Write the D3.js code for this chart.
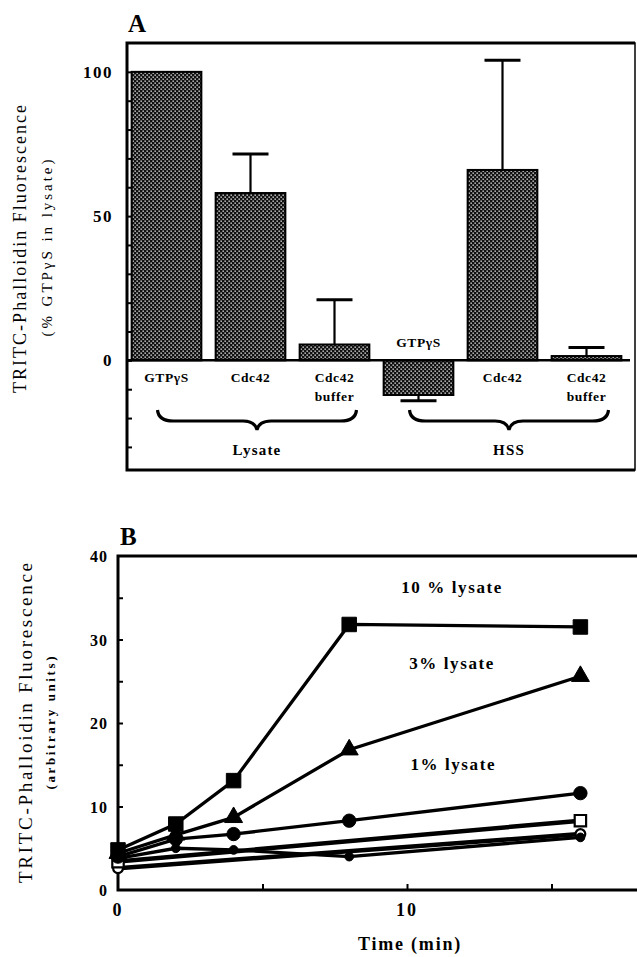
<!DOCTYPE html>
<html>
<head>
<meta charset="utf-8">
<script src="https://cdn.jsdelivr.net/npm/d3@7"></script>
<style>
    body { margin: 0; background: #fff; }
    svg { display: block; font-family: 'Liberation Serif', 'DejaVu Serif', serif; }
</style>
</head>
<body>
<svg id="chart"></svg>
<script>
// ---------- Panel A data ----------
const barIds = ['lys-gtp', 'lys-cdc', 'lys-buf', 'hss-gtp', 'hss-cdc', 'hss-buf'];
const barLabels = ['GTPγS', 'Cdc42', 'Cdc42\nbuffer', 'GTPγS', 'Cdc42', 'Cdc42\nbuffer'];
const barValues = [100, 58, 5.5, -12, 66, 1.5];
const barErrors = [0, 13.5, 15.5, 2, 38, 3];
const groupNames = ['Lysate', 'HSS'];
const groupMembers = [[0, 2], [3, 5]];
const yTicksA = [0, 50, 100];

// ---------- Panel B data ----------
const timePoints = [0, 2, 4, 8, 16];
const lysate10 = [4.8, 7.9, 13.1, 31.8, 31.5];
const lysate3 = [4.4, 6.6, 8.7, 16.8, 25.6];
const lysate1 = [4.0, 6.1, 6.7, 8.3, 11.6];
const noLysate = [3.8, 5.0, 4.8, 4.0, 6.3];
const controlTimes = [0, 16];
const openSquareValues = [3.4, 8.3];
const openCircleValues = [2.6, 6.7];
const seriesLabels = ['10 % lysate', '3% lysate', '1% lysate'];
const yTicksB = [0, 10, 20, 30, 40];
const xTicksB = [0, 10];

const width = 637, height = 957;
const svg = d3.select('#chart').attr('width', width).attr('height', height);

const defs = svg.append('defs');
const pat = defs.append('pattern')
    .attr('id', 'stipple')
    .attr('width', 4).attr('height', 4)
    .attr('patternUnits', 'userSpaceOnUse');
pat.append('rect').attr('width', 4).attr('height', 4).attr('fill', '#111');
pat.append('rect').attr('x', 0.5).attr('y', 0.5).attr('width', 1.3).attr('height', 1.3).attr('fill', '#fff');
pat.append('rect').attr('x', 2.5).attr('y', 2.5).attr('width', 1.3).attr('height', 1.3).attr('fill', '#fff');

// =================== Panel A ===================
const frameA = { left: 127, top: 43, right: 635, bottom: 470 };

const xA = d3.scaleBand()
    .domain(barIds)
    .range([124.5, 628.5])
    .paddingInner(0.17)
    .paddingOuter(0.085);

const yA = d3.scaleLinear()
    .domain([-38, 110])
    .range([frameA.bottom, frameA.top]);

const gA = svg.append('g');

// frame
gA.append('rect')
    .attr('x', frameA.left).attr('y', frameA.top)
    .attr('width', frameA.right - frameA.left)
    .attr('height', frameA.bottom - frameA.top)
    .attr('fill', 'none')
    .attr('stroke', '#000')
    .attr('stroke-width', 1.5);
gA.append('path')
    .attr('d', `M${frameA.right},${frameA.top} H${frameA.left} V${frameA.bottom} H${frameA.right}`)
    .attr('fill', 'none')
    .attr('stroke', '#000')
    .attr('stroke-width', 3);

// y axis: inward minor ticks every 10, labels at 0/50/100
const axisA = gA.append('g')
    .attr('transform', `translate(${frameA.left},0)`)
    .call(d3.axisRight(yA).tickValues(d3.range(-30, 101, 10)).tickSize(5).tickFormat(''));
axisA.select('.domain').remove();
axisA.selectAll('line').attr('stroke-width', 2);

gA.selectAll('.ytickA')
    .data(yTicksA)
    .join('text')
    .attr('class', 'ytickA')
    .attr('x', 113)
    .attr('y', d => yA(d) + 6)
    .attr('text-anchor', 'end')
    .attr('font-size', 17)
    .attr('font-weight', 'bold')
    .attr('letter-spacing', 1.5)
    .text(d => d);

// bars
const bars = barIds.map((id, i) => ({ id, label: barLabels[i], value: barValues[i], err: barErrors[i] }));

gA.selectAll('.bar')
    .data(bars)
    .join('rect')
    .attr('class', 'bar')
    .attr('x', d => xA(d.id))
    .attr('width', xA.bandwidth())
    .attr('y', d => yA(Math.max(0, d.value)))
    .attr('height', d => Math.abs(yA(d.value) - yA(0)))
    .attr('fill', 'url(#stipple)')
    .attr('stroke', '#000')
    .attr('stroke-width', 2);

// error bars (drawn away from zero)
const errBars = bars.filter(d => d.err > 0);
const errEnd = d => d.value >= 0 ? d.value + d.err : d.value - d.err;
gA.selectAll('.err-stem')
    .data(errBars)
    .join('line')
    .attr('class', 'err-stem')
    .attr('x1', d => xA(d.id) + xA.bandwidth() / 2)
    .attr('x2', d => xA(d.id) + xA.bandwidth() / 2)
    .attr('y1', d => yA(d.value))
    .attr('y2', d => yA(errEnd(d)))
    .attr('stroke', '#000').attr('stroke-width', 2.2);
gA.selectAll('.err-cap')
    .data(errBars)
    .join('line')
    .attr('class', 'err-cap')
    .attr('x1', d => xA(d.id) + xA.bandwidth() / 2 - 18)
    .attr('x2', d => xA(d.id) + xA.bandwidth() / 2 + 18)
    .attr('y1', d => yA(errEnd(d)))
    .attr('y2', d => yA(errEnd(d)))
    .attr('stroke', '#000').attr('stroke-width', 3);

// zero line
gA.append('line')
    .attr('x1', frameA.left).attr('x2', 630)
    .attr('y1', yA(0)).attr('y2', yA(0))
    .attr('stroke', '#000').attr('stroke-width', 2.5);

// category labels (negative bar gets its label above the zero line)
const catLabels = gA.selectAll('.cat')
    .data(bars)
    .join('text')
    .attr('class', 'cat')
    .attr('text-anchor', 'middle')
    .attr('font-size', 13.5)
    .attr('font-weight', 'bold')
    .attr('letter-spacing', 0.6)
    .attr('x', d => xA(d.id) + xA.bandwidth() / 2)
    .attr('y', d => d.value < 0 ? yA(0) - 13 : yA(0) + 22);
catLabels.selectAll('tspan')
    .data(d => d.label.split('\n'))
    .join('tspan')
    .attr('x', function () { return d3.select(this.parentNode).attr('x'); })
    .attr('dy', (d, i) => i === 0 ? 0 : 19)
    .text(d => d);

// group braces
const bracePath = (x0, x1, yTop) => {
    const mid = (x0 + x1) / 2, yb = yTop + 11, tip = yb + 9;
    return `M${x0},${yTop} Q${x0 + 1},${yb} ${x0 + 16},${yb} L${mid - 14},${yb} Q${mid - 2},${yb} ${mid},${tip}` +
        ` Q${mid + 2},${yb} ${mid + 14},${yb} L${x1 - 16},${yb} Q${x1 - 1},${yb} ${x1},${yTop}`;
};
const groups = groupNames.map((name, i) => {
    const first = barIds[groupMembers[i][0]], last = barIds[groupMembers[i][1]];
    const c0 = xA(first) + xA.bandwidth() / 2, c1 = xA(last) + xA.bandwidth() / 2;
    return { name, x0: c0 - 9, x1: c1 + 22 };
});
gA.selectAll('.brace')
    .data(groups)
    .join('path')
    .attr('class', 'brace')
    .attr('d', d => bracePath(d.x0, d.x1, 410))
    .attr('fill', 'none')
    .attr('stroke', '#000')
    .attr('stroke-width', 3.2);
gA.selectAll('.group-label')
    .data(groups)
    .join('text')
    .attr('class', 'group-label')
    .attr('x', d => (d.x0 + d.x1) / 2)
    .attr('y', 455)
    .attr('text-anchor', 'middle')
    .attr('font-size', 15)
    .attr('font-weight', 'bold')
    .attr('letter-spacing', 1.2)
    .text(d => d.name);

// axis titles
gA.append('text')
    .attr('x', 128).attr('y', 32)
    .attr('font-size', 25)
    .attr('font-weight', 'bold')
    .text('A');
gA.append('text')
    .attr('transform', 'translate(26,249) rotate(-90)')
    .attr('text-anchor', 'middle')
    .attr('font-size', 18)
    .attr('textLength', 288).attr('lengthAdjust', 'spacing')
    .text('TRITC-Phalloidin Fluorescence');
gA.append('text')
    .attr('transform', 'translate(52,248) rotate(-90)')
    .attr('text-anchor', 'middle')
    .attr('font-size', 15)
    .attr('textLength', 177).attr('lengthAdjust', 'spacing')
    .text('(% GTPγS in lysate)');

// =================== Panel B ===================
const frameB = { left: 118, top: 556, right: 637, bottom: 890 };

const xB = d3.scaleLinear()
    .domain([0, 10])
    .range([frameB.left, 407]);
const yB = d3.scaleLinear()
    .domain([0, 40])
    .range([frameB.bottom, frameB.top]);

const gB = svg.append('g');

gB.append('path')
    .attr('d', `M${frameB.right},${frameB.top} H${frameB.left} V${frameB.bottom} H${frameB.right}`)
    .attr('fill', 'none')
    .attr('stroke', '#000')
    .attr('stroke-width', 3);

// inward ticks
const yAxisB = gB.append('g')
    .attr('transform', `translate(${frameB.left},0)`)
    .call(d3.axisRight(yB).tickValues(d3.range(5, 40, 5)).tickSize(5).tickFormat(''));
yAxisB.select('.domain').remove();
yAxisB.selectAll('line').attr('stroke-width', 2);
const xAxisB = gB.append('g')
    .attr('transform', `translate(0,${frameB.bottom})`)
    .call(d3.axisTop(xB).tickValues([5, 10, 15]).tickSize(6).tickFormat(''));
xAxisB.select('.domain').remove();
xAxisB.selectAll('line').attr('stroke-width', 2);

gB.selectAll('.ytickB')
    .data(yTicksB)
    .join('text')
    .attr('class', 'ytickB')
    .attr('x', 108)
    .attr('y', d => yB(d) + 6)
    .attr('text-anchor', 'end')
    .attr('font-size', 16)
    .attr('font-weight', 'bold')
    .attr('letter-spacing', 1)
    .text(d => d);
gB.selectAll('.xtickB')
    .data(xTicksB)
    .join('text')
    .attr('class', 'xtickB')
    .attr('x', d => xB(d))
    .attr('y', 916)
    .attr('text-anchor', 'middle')
    .attr('font-size', 18)
    .attr('font-weight', 'bold')
    .attr('letter-spacing', 2)
    .text(d => d);

// series
const toPoints = (times, values) => times.map((t, i) => ({ t, v: values[i] }));
const line = d3.line().x(d => xB(d.t)).y(d => yB(d.v));
const series = [
    { pts: toPoints(controlTimes, openCircleValues), shape: 'openCircle' },
    { pts: toPoints(timePoints, noLysate), shape: 'smallDot' },
    { pts: toPoints(controlTimes, openSquareValues), shape: 'openSquare' },
    { pts: toPoints(timePoints, lysate1), shape: 'circle' },
    { pts: toPoints(timePoints, lysate3), shape: 'triangle' },
    { pts: toPoints(timePoints, lysate10), shape: 'square' }
];

gB.selectAll('.series-line')
    .data(series)
    .join('path')
    .attr('class', 'series-line')
    .attr('d', d => line(d.pts))
    .attr('fill', 'none')
    .attr('stroke', '#000')
    .attr('stroke-width', d => d.shape.startsWith('open') ? 4.5 : 3.3);

const symbolFor = {
    square: d3.symbol(d3.symbolSquare, 210),
    triangle: d3.symbol(d3.symbolTriangle, 140),
    circle: d3.symbol(d3.symbolCircle, 140),
    smallDot: d3.symbol(d3.symbolCircle, 60),
    openSquare: d3.symbol(d3.symbolSquare, 130),
    openCircle: d3.symbol(d3.symbolCircle, 75)
};
series.forEach(s => {
    const open = s.shape.startsWith('open');
    gB.append('g').selectAll('path')
        .data(s.pts)
        .join('path')
        .attr('transform', d => `translate(${xB(d.t)},${yB(d.v)})`)
        .attr('d', symbolFor[s.shape]())
        .attr('fill', open ? '#fff' : '#000')
        .attr('stroke', '#000')
        .attr('stroke-width', open ? 2.2 : 1);
});

// series labels (layout positions in data units)
const labelPos = [{ t: 11.56, v: 35.6 }, { t: 11.56, v: 26.5 }, { t: 11.6, v: 14.4 }];
gB.selectAll('.series-label')
    .data(seriesLabels)
    .join('text')
    .attr('class', 'series-label')
    .attr('x', (d, i) => xB(labelPos[i].t))
    .attr('y', (d, i) => yB(labelPos[i].v))
    .attr('text-anchor', 'middle')
    .attr('font-size', 17)
    .attr('font-weight', 'bold')
    .attr('letter-spacing', 1.6)
    .text(d => d);

gB.append('text')
    .attr('x', 120).attr('y', 545)
    .attr('font-size', 25)
    .attr('font-weight', 'bold')
    .text('B');
gB.append('text')
    .attr('x', 410).attr('y', 950)
    .attr('text-anchor', 'middle')
    .attr('font-size', 18)
    .attr('font-weight', 'bold')
    .attr('letter-spacing', 1.8)
    .text('Time (min)');
gB.append('text')
    .attr('transform', 'translate(32,723) rotate(-90)')
    .attr('text-anchor', 'middle')
    .attr('font-size', 19)
    .attr('textLength', 320).attr('lengthAdjust', 'spacing')
    .text('TRITC-Phalloidin Fluorescence');
gB.append('text')
    .attr('transform', 'translate(55,723) rotate(-90)')
    .attr('text-anchor', 'middle')
    .attr('font-size', 13)
    .attr('font-weight', 'bold')
    .attr('textLength', 133).attr('lengthAdjust', 'spacing')
    .text('(arbitrary units)');
</script>
</body>
</html>
